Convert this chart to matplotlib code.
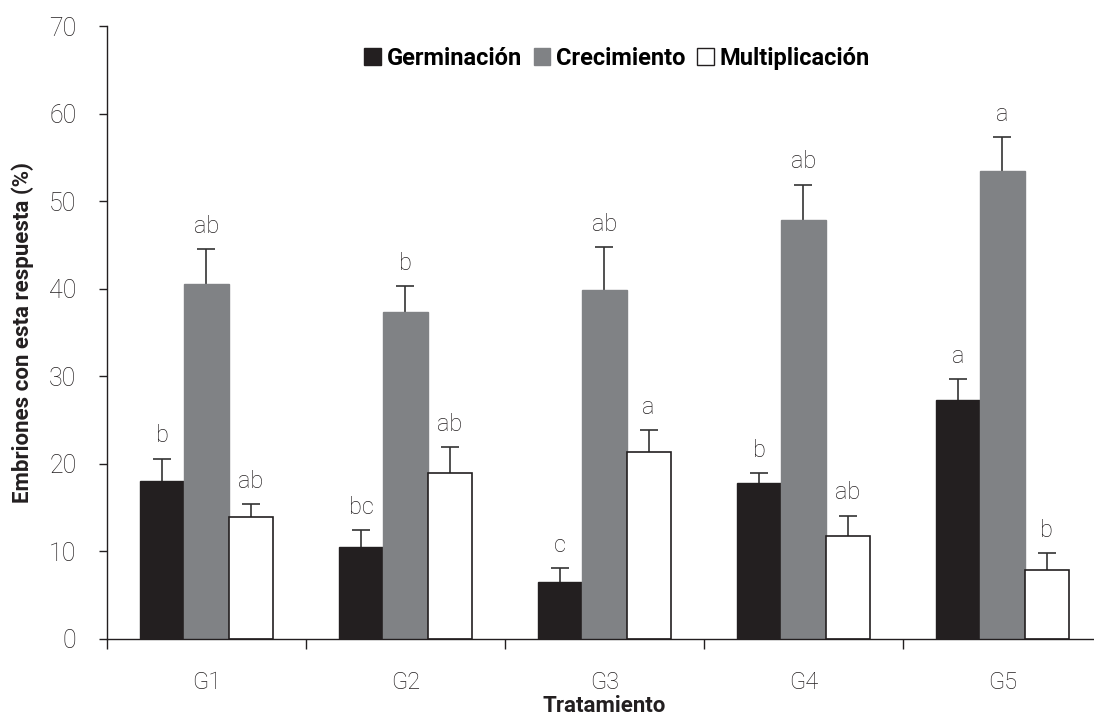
import matplotlib
matplotlib.use("Agg")
import matplotlib.pyplot as plt
import numpy as np
from matplotlib.patches import Patch

plt.rcParams['font.family'] = ['Roboto', 'DejaVu Sans']

groups = ["G1", "G2", "G3", "G4", "G5"]
series_names = ["Germinación", "Crecimiento", "Multiplicación"]

germinacion = [18.0, 10.5, 6.5, 17.8, 27.3]
crecimiento = [40.5, 37.3, 39.8, 47.9, 53.4]
multiplicacion = [13.9, 18.9, 21.4, 11.8, 7.9]

err_germinacion = [2.6, 1.9, 1.6, 1.1, 2.4]
err_crecimiento = [4.0, 3.0, 5.0, 4.0, 3.9]
err_multiplicacion = [1.5, 3.0, 2.5, 2.3, 1.9]

let_germinacion = ["b", "bc", "c", "b", "a"]
let_crecimiento = ["ab", "b", "ab", "ab", "a"]
let_multiplicacion = ["ab", "ab", "a", "ab", "b"]

yticks = [0, 10, 20, 30, 40, 50, 60, 70]

ink = "#231f20"

fig = plt.figure(figsize=(10.94, 7.17), dpi=100)
ax = fig.add_axes([0.0978, 0.1088, 0.9095, 0.8549])

x = np.arange(1, len(groups) + 1)
width = 0.222
styles = [
    dict(color="#231f20", edgecolor="#231f20"),
    dict(color="#808285", edgecolor="#808285"),
    dict(color="white", edgecolor="#231f20", linewidth=1.2),
]
vals = [germinacion, crecimiento, multiplicacion]
errs = [err_germinacion, err_crecimiento, err_multiplicacion]
lets = [let_germinacion, let_crecimiento, let_multiplicacion]

for i, (v, e, l, st) in enumerate(zip(vals, errs, lets, styles)):
    pos = x + (i - 1) * width
    ax.bar(pos, v, width=width, zorder=2, **st)
    # symmetric bars drawn behind the columns so only the upper half shows
    ax.errorbar(pos, v, yerr=e, fmt="none",
                ecolor="#333333", elinewidth=1.2, capsize=6.5, capthick=1.2,
                zorder=1)
    for p, val, err, lab in zip(pos, v, e, l):
        ax.annotate(lab, (p, val + err), xytext=(0, 8),
                    textcoords="offset points", ha="center", va="bottom",
                    fontsize=17, fontweight="light", color=ink)

ax.set_xlim(0.5, 5.5)
ax.set_ylim(0, 70)
ax.set_yticks(yticks)
ax.set_yticklabels([str(t) for t in yticks], fontsize=18, fontweight="light",
                   color=ink)
ax.set_xticks(x)
ax.set_xticklabels(groups, fontsize=17, fontweight="light", color=ink)
ax.tick_params(axis="x", length=0, pad=23)
ax.tick_params(axis="y", direction="out", length=6, width=1.0, color=ink,
               pad=16)
# category separators on x axis
ax.set_xticks(np.arange(0.5, 6.0, 1.0), minor=True)
ax.tick_params(axis="x", which="minor", direction="out", length=7, width=1.0,
               color=ink)

for s in ["top", "right"]:
    ax.spines[s].set_visible(False)
for s in ["left", "bottom"]:
    ax.spines[s].set_color(ink)
    ax.spines[s].set_linewidth(1.0)

ax.set_ylabel("Embriones con esta respuesta (%)", fontsize=16,
              fontweight="bold", color=ink, va="center")
ax.yaxis.set_label_coords(-0.0845, 0.5)
ax.set_xlabel("Tratamiento", fontsize=16, fontweight="bold", color=ink,
              va="center")
ax.xaxis.set_label_coords(0.5, -0.110)

handles = [Patch(facecolor=st["color"], edgecolor=st["edgecolor"],
                 linewidth=1.0) for st in styles]
fig.legend(handles, series_names, loc="center", bbox_to_anchor=(0.564, 0.919),
           ncol=3, frameon=False, handlelength=0.7, handleheight=0.7,
           handletextpad=0.25, columnspacing=0.5,
           prop=dict(family=["Roboto", "DejaVu Sans"], weight="bold", size=17))

fig.savefig("out.png", dpi=100)
